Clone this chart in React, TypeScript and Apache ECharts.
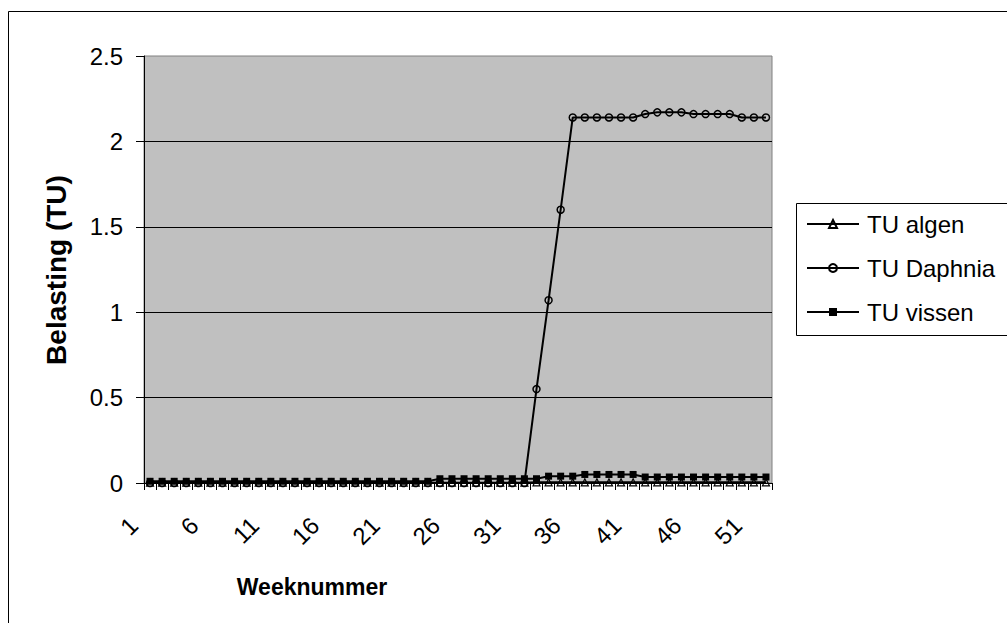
import React, { useEffect, useRef } from "react";
import * as echarts from "echarts";

const weeks = [
  "1", "2", "3", "4", "5", "6", "7", "8", "9", "10",
  "11", "12", "13", "14", "15", "16", "17", "18", "19", "20",
  "21", "22", "23", "24", "25", "26", "27", "28", "29", "30",
  "31", "32", "33", "34", "35", "36", "37", "38", "39", "40",
  "41", "42", "43", "44", "45", "46", "47", "48", "49", "50",
  "51", "52",
];

const tuAlgen = [
  0.002, 0.002, 0.002, 0.002, 0.002, 0.002, 0.002, 0.002, 0.002, 0.002,
  0.002, 0.002, 0.002, 0.002, 0.002, 0.002, 0.002, 0.002, 0.002, 0.002,
  0.002, 0.002, 0.002, 0.002, 0.002, 0.002, 0.002, 0.002, 0.002, 0.002,
  0.002, 0.002, 0.004, 0.004, 0.004, 0.004, 0.004, 0.004, 0.004, 0.004,
  0.004, 0.004, 0.004, 0.004, 0.004, 0.004, 0.004, 0.004, 0.004, 0.004,
  0.004, 0.004,
];

const tuDaphnia = [
  0, 0, 0, 0, 0, 0, 0, 0, 0, 0,
  0, 0, 0, 0, 0, 0, 0, 0, 0, 0,
  0, 0, 0, 0, 0, 0, 0, 0, 0, 0,
  0, 0, 0.55, 1.07, 1.6, 2.14, 2.14, 2.14, 2.14, 2.14,
  2.14, 2.16, 2.17, 2.17, 2.17, 2.16, 2.16, 2.16, 2.16, 2.14,
  2.14, 2.14,
];

const tuVissen = [
  0.01, 0.01, 0.01, 0.01, 0.01, 0.01, 0.01, 0.01, 0.01, 0.01,
  0.01, 0.01, 0.01, 0.01, 0.01, 0.01, 0.01, 0.01, 0.01, 0.01,
  0.01, 0.01, 0.01, 0.01, 0.025, 0.025, 0.025, 0.025, 0.025, 0.025,
  0.025, 0.025, 0.025, 0.04, 0.04, 0.04, 0.05, 0.05, 0.05, 0.05,
  0.05, 0.035, 0.035, 0.035, 0.035, 0.035, 0.035, 0.035, 0.035, 0.035,
  0.035, 0.035,
];

const seriesNames = ["TU algen", "TU Daphnia", "TU vissen"];
const xTitle = "Weeknummer";
const yTitle = "Belasting (TU)";

const FONT = "'Liberation Sans', Arial, sans-serif";

export default function App() {
  const ref = useRef<HTMLDivElement | null>(null);

  useEffect(() => {
    if (!ref.current) return;
    const chart = echarts.init(ref.current, null, { renderer: "svg" });
    chart.setOption({
      animation: false,
      backgroundColor: "#ffffff",
      textStyle: { fontFamily: FONT },
      grid: {
        left: 144,
        top: 56,
        right: 235,
        bottom: 140,
        show: true,
        backgroundColor: "#c0c0c0",
        borderColor: "#808080",
        borderWidth: 1,
      },
      xAxis: {
        type: "category",
        data: weeks,
        boundaryGap: true,
        axisLine: { show: true, lineStyle: { color: "#000", width: 1 } },
        axisTick: {
          show: true,
          interval: 0,
          alignWithLabel: false,
          length: 7,
          lineStyle: { color: "#000" },
        },
        axisLabel: {
          interval: 4,
          rotate: 45,
          margin: 39,
          verticalAlign: "bottom",
          padding: [0, 11, 0, 0],
          fontSize: 24,
          color: "#000",
          fontFamily: FONT,
        },
        splitLine: { show: false },
      },
      yAxis: {
        type: "value",
        min: 0,
        max: 2.5,
        interval: 0.5,
        axisLine: { show: true, lineStyle: { color: "#000", width: 1 } },
        axisTick: { show: true, length: 8, lineStyle: { color: "#000" } },
        axisLabel: {
          margin: 21,
          fontSize: 24,
          color: "#000",
          fontFamily: FONT,
          formatter: (v: number) => String(v),
        },
        splitLine: {
          show: true,
          showMaxLine: false,
          lineStyle: { color: "#000", width: 1 },
        },
      },
      legend: {
        orient: "vertical",
        left: 801,
        top: 207,
        itemWidth: 52,
        itemHeight: 10,
        itemGap: 20,
        data: seriesNames,
        textStyle: { fontSize: 24, color: "#000", fontFamily: FONT, padding: [0, 0, 0, 3] },
      },
      graphic: [
        {
          type: "rect",
          silent: true,
          z: 100,
          shape: { x: 8.5, y: 11.5, width: 1100, height: 700 },
          style: { fill: "none", stroke: "#000", lineWidth: 1 },
        },
        {
          type: "rect",
          silent: true,
          z: 100,
          shape: { x: 796.5, y: 203.5, width: 300, height: 132 },
          style: { fill: "none", stroke: "#000", lineWidth: 1 },
        },
        {
          type: "text",
          silent: true,
          x: 312,
          y: 587,
          style: {
            text: xTitle,
            font: `bold 23px ${FONT}`,
            fill: "#000",
            align: "center",
            verticalAlign: "middle",
          },
        },
        {
          type: "text",
          silent: true,
          x: 56,
          y: 270,
          rotation: Math.PI / 2,
          style: {
            text: yTitle,
            font: `bold 28px ${FONT}`,
            fill: "#000",
            align: "center",
            verticalAlign: "middle",
          },
        },
      ],
      series: [
        {
          name: seriesNames[0],
          type: "line",
          data: tuAlgen,
          symbol: "triangle",
          symbolSize: 7,
          showAllSymbol: true,
          lineStyle: { color: "#000", width: 2 },
          itemStyle: { color: "rgba(0,0,0,0)", borderColor: "#000", borderWidth: 1.2 },
          z: 2,
        },
        {
          name: seriesNames[1],
          type: "line",
          data: tuDaphnia,
          symbol: "circle",
          symbolSize: 7,
          showAllSymbol: true,
          lineStyle: { color: "#000", width: 2 },
          itemStyle: { color: "rgba(0,0,0,0)", borderColor: "#000", borderWidth: 1.5 },
          z: 3,
        },
        {
          name: seriesNames[2],
          type: "line",
          data: tuVissen,
          symbol: "rect",
          symbolSize: 7,
          showAllSymbol: true,
          lineStyle: { color: "#000", width: 2 },
          itemStyle: { color: "#000", borderColor: "#000", borderWidth: 0 },
          z: 4,
        },
      ],
    });
    return () => chart.dispose();
  }, []);

  return (
    <div
      ref={ref}
      style={{ position: "fixed", left: 0, top: 0, width: 1007, height: 623 }}
    />
  );
}
